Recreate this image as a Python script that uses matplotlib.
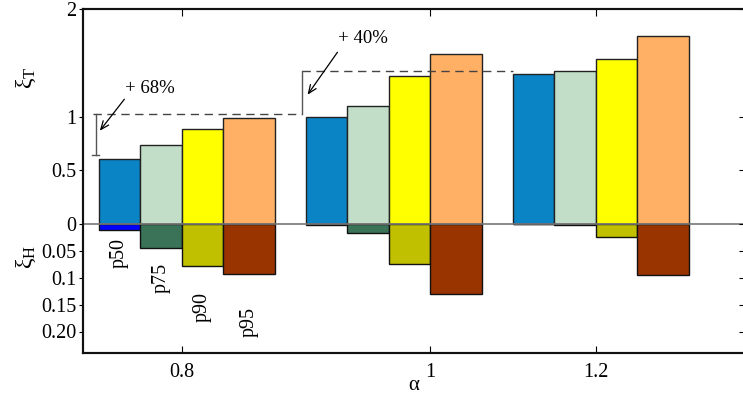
import matplotlib
matplotlib.use("Agg")
import matplotlib.pyplot as plt
import numpy as np

plt.rcParams['font.family'] = ['Liberation Serif', 'DejaVu Serif']
plt.rcParams['mathtext.fontset'] = 'custom'
plt.rcParams['mathtext.rm'] = 'Liberation Serif'
plt.rcParams['mathtext.it'] = 'Liberation Serif:italic'

# ---- data ----
alpha_labels = ['0.8', '1', '1.2']
alpha_tick_pos = [0.0, 1.2, 2.0]
percentiles = ['p50', 'p75', 'p90', 'p95']

xi_T_p50 = [0.602, 0.998, 1.398]
xi_T_p75 = [0.732, 1.098, 1.420]
xi_T_p90 = [0.881, 1.377, 1.538]
xi_T_p95 = [0.989, 1.581, 1.752]

xi_H_p50 = [0.011, 0.001, 0.0005]
xi_H_p75 = [0.044, 0.017, 0.001]
xi_H_p90 = [0.079, 0.075, 0.025]
xi_H_p95 = [0.093, 0.130, 0.094]

H_SCALE = 5.0  # lower half is scaled (0.05 per 0.25 axis units)

ytick_vals = [-1.0, -0.75, -0.5, -0.25, 0, 0.5, 1, 2]
ytick_labels = ['0.20', '0.15', '0.1', '0.05', '0', '0.5', '1', '2']

# ---- style ----
upper_colors = ['#0b84c6', '#c2dec8', '#ffff00', '#ffb064']
lower_colors = ['#0000ff', '#3b7358', '#c0c000', '#993300']
offsets = [-0.4, -0.2, 0.0, 0.2]
widths = [0.2, 0.2, 0.2, 0.25]

fig = plt.figure(figsize=(7.43, 3.99), dpi=100)
ax = fig.add_axes([83/743, 1-353/399, (745-83)/743, (353-9)/399])

groups = np.arange(3)
T_all = [xi_T_p50, xi_T_p75, xi_T_p90, xi_T_p95]
H_all = [xi_H_p50, xi_H_p75, xi_H_p90, xi_H_p95]
for k in range(4):
    ax.bar(groups + offsets[k], T_all[k], width=widths[k], align='edge',
           color=upper_colors[k], edgecolor='#222222', linewidth=1.0, zorder=2)
    ax.bar(groups + offsets[k], -np.array(H_all[k]) * H_SCALE, width=widths[k],
           align='edge', color=lower_colors[k], edgecolor='#111111',
           linewidth=1.0, zorder=2)

ax.axhline(0, color='#777777', lw=1.2, zorder=5)

# percentile labels under group 1
label_y = [-0.13, -0.363, -0.633, -0.772]
for k in range(4):
    ax.text(groups[0] + offsets[k] + widths[k] / 2, label_y[k], percentiles[k],
            rotation=90, ha='center', va='top', fontsize=14.5)

# dashed guides and brackets
dash = (0, (6, 4))
ax.plot([-0.428, 0.582], [1.026, 1.026], color='#444444', lw=1.0, ls=dash, zorder=3)
ax.plot([0.582, 1.601], [1.426, 1.426], color='#444444', lw=1.0, ls=dash, zorder=3)
ax.plot([-0.4145, -0.4145], [0.639, 1.026], color='#555555', lw=1.0, zorder=3)
ax.plot([-0.432, -0.399], [0.639, 0.639], color='#555555', lw=1.0, zorder=3)
ax.plot([0.582, 0.582], [1.026, 1.426], color='#555555', lw=1.0, zorder=3)

ax.annotate('', xy=(-0.403, 0.847), xytext=(-0.268, 1.181),
            arrowprops=dict(arrowstyle='->,head_length=0.6,head_width=0.25', lw=0.9, color='k'))
ax.text(-0.152, 1.265, '+ 68%', ha='center', va='center', fontsize=13.5)
ax.annotate('', xy=(0.601, 1.181), xytext=(0.761, 1.619),
            arrowprops=dict(arrowstyle='->,head_length=0.6,head_width=0.25', lw=0.9, color='k'))
ax.text(0.877, 1.721, '+ 40%', ha='center', va='center', fontsize=13.5)

ax.set_xlim(-0.476, 2.722)
ax.set_ylim(-1.2, 2.0)
ax.set_xticks(alpha_tick_pos)
ax.set_xticklabels(alpha_labels, fontsize=14.5)
ax.set_yticks(ytick_vals)
ax.set_yticklabels(ytick_labels, fontsize=14.5)
ax.tick_params(axis='x', direction='in', length=5, top=True, bottom=True, pad=7)
ax.tick_params(axis='y', direction='out', length=3, left=True, right=False, pad=2)

ax_r = ax.twinx()
ax_r.set_ylim(-1.2, 2.0)
ax_r.set_yticks(ytick_vals)
ax_r.set_yticklabels([])
ax_r.tick_params(axis='y', direction='in', length=4)
for a in (ax, ax_r):
    for s in a.spines.values():
        s.set_linewidth(1.5)
        s.set_color('#111111')

fig.text(414/743, 1-386/399, 'α', ha='center', va='center', fontsize=15)
fig.text(26/743, 1-78/399, r'$\mathrm{\xi_T}$', rotation=90, ha='center', va='center', fontsize=17)
fig.text(26/743, 1-257/399, r'$\mathrm{\xi_H}$', rotation=90, ha='center', va='center', fontsize=17)

fig.savefig('out.png', dpi=100)
